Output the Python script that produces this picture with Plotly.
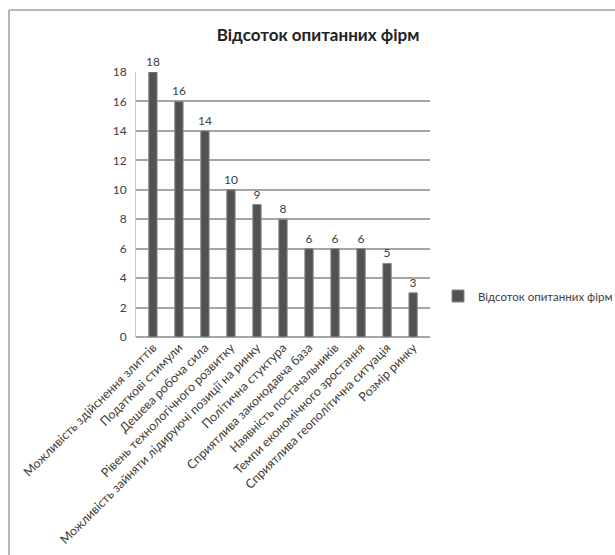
import plotly.graph_objects as go

categories = [
    "Можливість здійснення злиттів",
    "Податкові стимули",
    "Дешева робоча сила",
    "Рівень технологічного розвитку",
    "Можливість зайняти лідируючі позиції на ринку",
    "Політична стуктура",
    "Сприятлива законодавча база",
    "Наявність постачальників",
    "Темпи економічного зростання",
    "Сприятлива геополітична ситуація",
    "Розмір ринку",
]
values = [18, 16, 14, 10, 9, 8, 6, 6, 6, 5, 3]
series_name = "Відсоток опитанних фірм"
title_text = "Відсоток опитанних фірм"
y_ticks = [0, 2, 4, 6, 8, 10, 12, 14, 16, 18]

FONT = "Lato, Open Sans, sans-serif"
W, H = 615, 555
L, R, T, B = 136, 430, 72, 337
PW, PH = R - L, B - T

fig = go.Figure()
fig.add_trace(go.Bar(
    x=list(range(len(categories))),
    y=values,
    name=series_name,
    text=[str(v) for v in values],
    textposition="outside",
    constraintext="none",
    textfont=dict(family=FONT, size=12, color="#404040"),
    cliponaxis=False,
    width=0.32,
    marker=dict(color="#525252", line=dict(color="#8a8a8a", width=1)),
    showlegend=True,
))

fig.update_layout(
    width=W, height=H,
    autosize=False,
    margin=dict(l=L, r=W - R, t=T, b=H - B, pad=0, autoexpand=False),
    paper_bgcolor="white",
    plot_bgcolor="white",
    font=dict(family=FONT, size=11, color="#404040"),
    title=dict(text="<b>" + title_text + "</b>", x=318 / W, xanchor="center",
               y=1 - 35 / H, yanchor="middle",
               font=dict(family=FONT, size=17, color="#222222")),
    bargap=0.6,
    showlegend=True,
    legend=dict(x=(438 - L) / PW, xanchor="left",
                y=(B - 296) / PH, yanchor="middle",
                font=dict(family=FONT, size=11.5, color="#404040"),
                bgcolor="rgba(0,0,0,0)", itemwidth=30),
)

fig.update_xaxes(
    range=[-0.65, len(categories) - 0.35],
    tickmode="array",
    tickvals=list(range(len(categories))),
    ticktext=categories,
    tickangle=-45,
    showgrid=False,
    showline=False,
    zeroline=False,
    ticks="",
    automargin=False,
    tickfont=dict(family=FONT, size=12.5, color="#404040"),
)
fig.update_yaxes(
    range=[0, 18],
    tickvals=y_ticks,
    showgrid=True,
    gridcolor="#a6a6a6",
    gridwidth=1.5,
    zeroline=True,
    zerolinecolor="#a6a6a6",
    zerolinewidth=1.5,
    showline=True,
    linecolor="#c8c8c8",
    linewidth=1,
    ticks="",
    automargin=False,
    ticklabelstandoff=6,
    tickfont=dict(family=FONT, size=12, color="#404040"),
)

# outer chart frame: only the left and top edges are inside the canvas
frame_x0 = (9 - L) / PW
frame_y1 = (B - 10) / PH
fig.add_shape(type="line", xref="paper", yref="paper",
              x0=frame_x0, x1=frame_x0, y0=(B - (H + 20)) / PH, y1=frame_y1,
              line=dict(color="#a0a0a0", width=1.5), layer="below")
fig.add_shape(type="line", xref="paper", yref="paper",
              x0=frame_x0, x1=(W + 20 - L) / PW, y0=frame_y1, y1=frame_y1,
              line=dict(color="#a0a0a0", width=1.5), layer="below")

fig.write_html("out.html")
